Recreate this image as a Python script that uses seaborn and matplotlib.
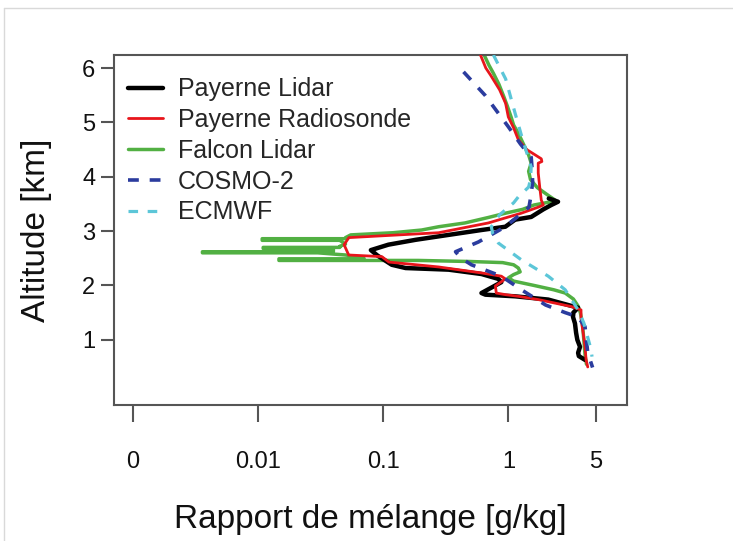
import numpy as np
import pandas as pd
import seaborn as sns
import matplotlib.pyplot as plt
from matplotlib.lines import Line2D

# --- data (mixing ratio in g/kg, altitude in km) ---
lidar_alt = [3.60, 3.54, 3.48, 3.40, 3.26, 3.21, 3.08, 3.02, 2.93, 2.84, 2.75, 2.65,
             2.55, 2.45, 2.38, 2.32, 2.29, 2.21, 2.12, 2.06, 1.86, 1.83, 1.80, 1.74,
             1.59, 1.50, 1.42, 1.30, 1.13, 1.00, 0.87, 0.76, 0.70, 0.63]
lidar_val = [2.10, 2.49, 2.20, 1.90, 1.52, 1.13, 0.945, 0.61, 0.333, 0.182, 0.11, 0.0797,
             0.09, 0.105, 0.117, 0.151, 0.333, 0.609, 0.831, 0.878, 0.609, 0.655, 1.13, 2.08,
             3.60, 3.30, 3.28, 3.40, 3.47, 3.55, 3.73, 3.60, 3.65, 4.09]

sonde_alt = [6.24, 6.00, 5.87, 5.60, 5.35, 5.10, 4.90, 4.68, 4.50, 4.40, 4.33, 4.28,
             4.25, 4.07, 3.80, 3.57, 3.48, 3.44, 3.33, 3.15, 2.97, 2.88, 2.75, 2.56,
             2.53, 2.43, 2.34, 2.23, 2.17, 2.12, 1.99, 1.86, 1.83, 1.80, 1.74, 1.61,
             1.55, 1.39, 1.13, 0.87, 0.63, 0.50]
sonde_val = [0.598, 0.66, 0.72, 0.85, 0.95, 0.998, 1.10, 1.20, 1.40, 1.64, 1.83, 1.85,
             1.73, 1.73, 1.78, 1.83, 1.90, 1.73, 1.27, 0.692, 0.277, 0.0532, 0.0487, 0.053,
             0.0975, 0.111, 0.277, 0.609, 0.878, 0.945, 0.787, 0.80, 0.95, 1.20, 1.73, 3.20,
             3.80, 3.80, 3.95, 4.09, 4.17, 4.30]

falcon_alt = [6.24, 6.05, 5.90, 5.70, 5.47, 5.30, 5.10, 4.95, 4.80, 4.55, 4.40, 4.25,
              4.10, 3.95, 3.80, 3.65, 3.57, 3.54, 3.48, 3.40, 3.33, 3.25, 3.15, 3.08,
              3.02, 2.97, 2.93, 2.88, 2.86, 2.86, 2.83, 2.83, 2.76, 2.72, 2.70, 2.70,
              2.68, 2.68, 2.64, 2.62, 2.62, 2.60, 2.60, 2.56, 2.51, 2.49, 2.49, 2.46,
              2.46, 2.44, 2.42, 2.38, 2.32, 2.25, 2.20, 2.14, 2.08, 2.00, 1.92, 1.86,
              1.75, 1.62, 1.50, 1.30, 1.00, 0.70, 0.55]
falcon_val = [0.64, 0.70, 0.76, 0.84, 0.92, 0.98, 1.05, 1.10, 1.20, 1.35, 1.45, 1.52,
              1.45, 1.50, 1.70, 2.10, 2.36, 2.20, 1.60, 1.30, 0.95, 0.69, 0.45, 0.277,
              0.203, 0.12, 0.055, 0.05, 0.05, 0.0108, 0.0108, 0.045, 0.05, 0.045, 0.045, 0.011,
              0.011, 0.04, 0.04, 0.04, 0.0036, 0.0036, 0.03, 0.05, 0.07, 0.07, 0.0147, 0.0147,
              0.19, 0.50, 0.90, 1.10, 1.20, 1.24, 1.10, 1.00, 1.10, 1.60, 2.30, 2.84,
              3.30, 3.60, 3.75, 3.90, 4.00, 4.10, 4.20]

cosmo_alt = [5.93, 5.50, 4.92, 4.60, 4.36, 4.10, 3.89, 3.60, 3.44, 3.08, 2.80, 2.62,
             2.50, 2.38, 2.17, 1.92, 1.64, 1.50, 1.42, 1.24, 0.76, 0.49]
cosmo_val = [0.438, 0.65, 0.998, 1.25, 1.52, 1.55, 1.56, 1.50, 1.46, 0.945, 0.576, 0.378,
             0.42, 0.507, 0.878, 1.27, 1.98, 2.84, 3.60, 4.09, 4.30, 4.70]

ecmwf_alt = [6.24, 5.80, 5.17, 4.68, 4.18, 3.95, 3.81, 3.63, 3.52, 3.30, 3.08, 2.95,
             2.78, 2.47, 2.17, 1.92, 1.55, 1.31, 0.82, 0.69]
ecmwf_val = [0.759, 0.95, 1.13, 1.30, 1.52, 1.50, 1.45, 1.20, 1.10, 0.85, 0.73, 0.75,
             0.831, 1.27, 2.08, 2.84, 3.60, 4.00, 4.57, 4.65]

x_ticks = [0.001, 0.01, 0.1, 1, 5]
x_tick_labels = ["0", "0.01", "0.1", "1", "5"]
y_ticks = [1, 2, 3, 4, 5, 6]

sns.set_style("white")
plt.rcParams["font.family"] = ["Liberation Sans", "DejaVu Sans"]

fig = plt.figure(figsize=(7.33, 5.41), dpi=100)
ax = fig.add_axes([114 / 733, (541 - 405) / 541, (627 - 114) / 733, (405 - 55) / 541])
ax.set_xscale("log")

series = [
    ("Payerne Lidar", lidar_val, lidar_alt, "#000000", 3.2, "-", 3),
    ("Payerne Radiosonde", sonde_val, sonde_alt, "#e8151b", 2.0, "-", 4),
    ("Falcon Lidar", falcon_val, falcon_alt, "#52b043", 2.5, "-", 2),
    ("COSMO-2", cosmo_val, cosmo_alt, "#2b3c9e", 2.6, (0, (3, 3)), 5),
    ("ECMWF", ecmwf_val, ecmwf_alt, "#5cc6d8", 2.3, (0, (3, 3)), 5),
]

handles = []
for name, val, alt, col, lw, ls, z in series:
    df = pd.DataFrame({"val": val, "alt": alt})
    sns.lineplot(data=df, x="val", y="alt", sort=False, estimator=None, orient="y",
                 color=col, linewidth=lw, linestyle=ls, zorder=z, ax=ax)
    handles.append(Line2D([], [], color=col, linewidth=lw, linestyle=ls, label=name))

ax.set_xlim(10 ** -3.15, 8.85)
ax.set_ylim(-0.2, 6.24)
ax.set_xticks(x_ticks)
ax.set_xticklabels(x_tick_labels)
ax.minorticks_off()
ax.set_yticks(y_ticks)

for s in ax.spines.values():
    s.set_color("#555555")
    s.set_linewidth(1.5)
ax.tick_params(axis="both", direction="out", colors="#555555", width=1.5, labelsize=17,
               labelcolor="#111111", bottom=True, left=True)
ax.tick_params(axis="x", length=12, pad=21)
ax.tick_params(axis="y", length=9.5, pad=4)

ax.set_xlabel("Rapport de mélange [g/kg]", fontsize=24, color="#111111")
ax.set_ylabel("Altitude [km]", fontsize=24, color="#111111")
ax.xaxis.set_label_coords(0.5, -0.282)
ax.yaxis.set_label_coords(-0.12, 0.5)

ax.legend(handles=handles, loc="upper left", bbox_to_anchor=(0.027, 0.936), frameon=False,
          fontsize=18, handlelength=1.4, handletextpad=0.6, labelspacing=0.27,
          borderpad=0, borderaxespad=0)

# thin grey frame on the left and top of the image
fig.add_artist(Line2D([4 / 733, 4 / 733], [0, 1 - 8 / 541], color="#d9d9d9", lw=1,
                      transform=fig.transFigure))
fig.add_artist(Line2D([4 / 733, 1], [1 - 8 / 541, 1 - 8 / 541], color="#d9d9d9", lw=1,
                      transform=fig.transFigure))

fig.savefig("out.png", dpi=100)
